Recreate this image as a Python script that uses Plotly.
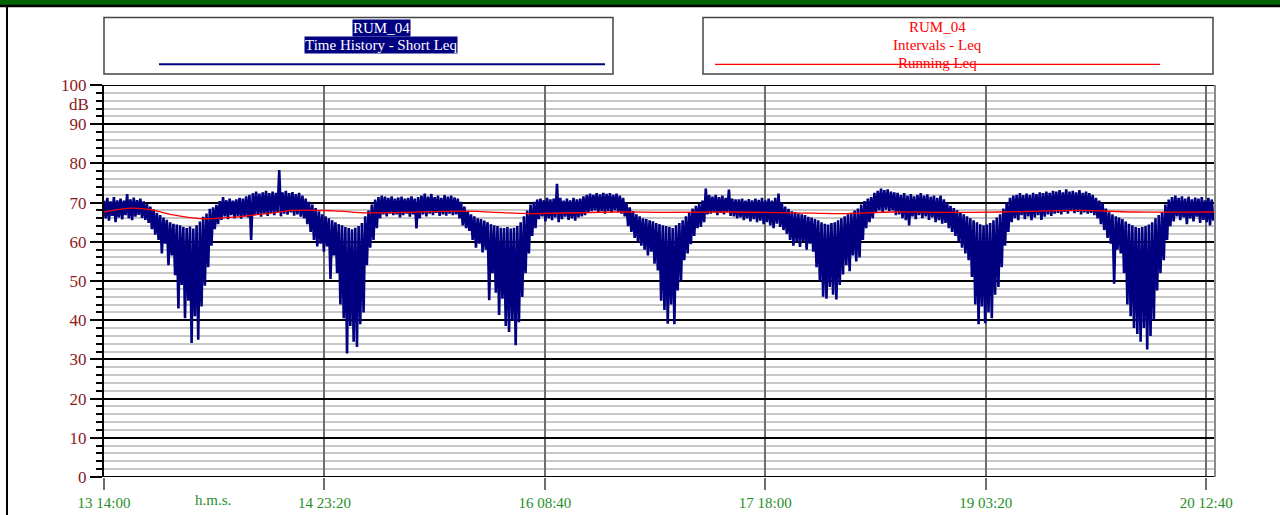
import pandas as pd
import plotly.graph_objects as go

# ---------------- data ----------------
START = "2021-09-13 14:00"
STEP_MIN = 30  # one high/low pair per 30 minutes

# Short Leq envelope, per day (48 half-hour slots each), dB
HI_D0 = [70.5, 71.2, 70.3, 71.4, 70.6, 71.0, 70.5, 72.2, 70.8, 71.3, 70.6, 71.0,
         70.3, 69.6, 69.0, 68.2, 67.4, 66.8, 66.2, 65.6, 65.0, 64.6, 64.4, 64.2,
         63.8, 63.5, 63.9, 63.4, 64.2, 65.2, 66.4, 67.2, 68.4, 68.8, 69.4, 70.4,
         71.4, 70.6, 71.0, 70.5, 70.8, 71.2, 71.0, 71.6, 72.0, 72.4, 72.8, 72.3]
LO_D0 = [66.0, 65.4, 66.6, 65.0, 66.2, 65.7, 66.8, 66.0, 65.5, 66.4, 66.9, 66.1,
         65.6, 64.8, 63.2, 61.8, 60.5, 57.0, 59.5, 54.0, 56.5, 51.5, 43.0, 49.0,
         40.5, 45.0, 34.2, 41.0, 35.0, 43.5, 48.8, 53.5, 59.0, 63.2, 64.5, 65.6,
         66.5, 65.8, 66.8, 66.0, 66.6, 65.9, 66.5, 66.2, 60.5, 66.8, 67.0, 66.4]
HI_D1 = [72.6, 73.0, 72.4, 72.8, 72.5, 78.3, 72.6, 73.0, 72.4, 72.7, 72.2, 72.5,
         71.8, 71.0, 70.2, 69.5, 68.6, 67.8, 67.0, 66.5, 66.0, 65.5, 65.0, 64.5,
         64.2, 63.8, 63.5, 63.2, 63.6, 64.0, 64.8, 66.5, 68.0, 69.5, 70.8, 71.4,
         71.8, 71.5, 71.2, 71.6, 71.0, 71.3, 71.5, 71.0, 71.2, 71.6, 71.0, 71.4]
LO_D1 = [67.2, 66.6, 67.4, 66.8, 67.6, 66.5, 67.2, 66.9, 67.5, 66.7, 67.0, 66.4,
         66.0, 64.5, 62.5, 60.5, 58.8, 59.5, 57.5, 58.8, 50.5, 56.5, 52.0, 44.0,
         40.5, 31.5, 38.5, 34.5, 33.2, 39.0, 42.0, 54.0, 58.5, 60.5, 63.5, 66.0,
         67.0, 66.5, 67.2, 66.8, 67.0, 66.2, 66.8, 67.2, 66.4, 67.0, 63.4, 66.0]
HI_D2 = [71.8, 72.3, 71.5, 72.2, 71.4, 71.8, 71.2, 71.9, 71.5, 71.8, 71.3, 71.0,
         70.2, 69.0, 67.8, 67.0, 66.5, 66.0, 65.8, 65.4, 65.0, 64.5, 64.2, 64.0,
         63.6, 63.5, 63.8, 63.4, 63.6, 64.0, 65.0, 66.5, 68.0, 69.5, 70.2, 70.8,
         71.0, 70.6, 71.2, 70.8, 71.0, 74.8, 71.2, 70.5, 71.0, 70.6, 71.2, 70.8]
LO_D2 = [67.0, 66.5, 67.2, 66.8, 67.4, 66.6, 67.0, 66.7, 67.2, 66.8, 67.0, 66.0,
         64.2, 63.5, 62.8, 60.5, 58.5, 59.5, 57.3, 58.0, 45.1, 52.0, 47.0, 41.3,
         45.5, 38.5, 37.0, 40.0, 33.6, 39.5, 45.9, 52.0, 57.0, 61.5, 63.5, 65.8,
         66.5, 65.2, 66.0, 65.5, 66.2, 65.0, 65.8, 66.4, 65.6, 66.0, 65.4, 66.2]
HI_D3 = [71.0, 71.6, 72.0, 72.3, 72.0, 72.4, 72.1, 72.5, 72.2, 72.4, 72.0, 72.3,
         71.8, 71.2, 70.0, 68.8, 67.8, 67.0, 66.5, 66.0, 65.8, 65.5, 65.2, 64.8,
         64.5, 64.2, 64.0, 63.8, 63.5, 64.2, 64.8, 65.5, 66.5, 67.5, 68.5, 69.2,
         69.6, 70.5, 73.6, 72.0, 71.5, 72.0, 71.4, 71.8, 71.2, 73.3, 71.0, 70.8]
LO_D3 = [66.5, 66.8, 67.5, 67.8, 68.0, 67.4, 67.8, 67.2, 67.9, 67.5, 68.0, 67.6,
         67.2, 66.5, 64.0, 62.5, 61.0, 60.0, 59.0, 58.0, 56.5, 57.5, 54.4, 52.7,
         45.0, 42.6, 39.1, 44.0, 39.0, 47.6, 50.0, 55.3, 57.0, 59.4, 61.5, 63.5,
         63.8, 65.0, 67.0, 67.2, 67.6, 66.8, 67.4, 67.0, 67.6, 66.6, 66.5, 66.0]
HI_D4 = [70.8, 71.0, 70.5, 70.9, 70.6, 71.0, 70.7, 71.2, 70.6, 71.0, 70.5, 71.2,
         72.3, 70.0, 69.0, 68.4, 67.8, 67.5, 67.2, 67.0, 66.8, 66.4, 66.2, 65.8,
         65.5, 65.0, 64.6, 64.4, 64.8, 65.0, 65.5, 66.0, 66.5, 67.0, 67.4, 68.0,
         68.5, 69.5, 70.4, 71.0, 71.4, 72.5, 73.0, 73.6, 73.2, 73.4, 72.8, 72.6]
LO_D4 = [66.2, 65.5, 66.0, 65.2, 65.8, 65.0, 65.4, 64.5, 65.0, 64.2, 63.5, 64.6,
         63.8, 63.0, 62.0, 60.5, 59.0, 60.0, 58.7, 60.2, 58.0, 59.5, 57.5, 53.5,
         50.0, 46.0, 45.5, 48.5, 46.5, 45.3, 49.0, 51.7, 54.0, 52.5, 56.5, 55.0,
         56.0, 60.5, 63.5, 65.0, 66.0, 67.5, 68.0, 67.6, 68.2, 67.8, 68.0, 66.8]
HI_D5 = [72.5, 72.0, 72.4, 71.8, 72.2, 71.6, 72.0, 72.4, 71.8, 72.1, 71.5, 71.8,
         71.2, 71.8, 70.8, 70.0, 69.2, 68.6, 68.0, 67.5, 67.0, 66.5, 66.0, 65.5,
         65.0, 64.5, 64.2, 64.4, 64.8, 65.5, 66.2, 67.0, 68.5, 70.0, 71.2, 71.8,
         72.0, 72.4, 71.9, 72.3, 72.0, 72.5, 72.2, 72.6, 72.4, 72.8, 72.5, 73.0]
LO_D5 = [67.0, 66.0, 65.5, 64.2, 66.5, 65.8, 66.8, 66.0, 66.5, 65.6, 66.2, 65.0,
         65.5, 64.6, 64.8, 63.5, 62.5, 61.5, 60.0, 58.5, 57.0, 55.3, 51.0, 44.0,
         39.0, 43.5, 39.2, 42.0, 40.5, 46.5, 48.5, 53.5, 59.0, 62.5, 65.0, 66.0,
         65.5, 66.8, 65.8, 66.5, 65.5, 66.2, 66.8, 65.6, 66.4, 67.0, 66.6, 67.2]
HI_D6 = [72.8, 73.2, 72.6, 73.4, 72.8, 73.0, 72.6, 73.2, 72.5, 72.8, 72.4, 72.0,
         71.2, 70.5, 69.8, 68.5, 67.5, 67.0, 66.5, 66.2, 65.8, 65.2, 64.6, 64.2,
         63.8, 63.5, 63.8, 64.0, 64.4, 65.0, 66.0, 66.8, 67.5, 69.5, 70.8, 71.4,
         71.8, 71.2, 71.6, 71.0, 71.5, 70.8, 71.3, 71.0, 71.4, 70.6, 71.2, 70.8]
LO_D6 = [67.4, 67.0, 67.6, 67.2, 67.8, 67.3, 67.6, 67.0, 67.5, 67.2, 67.4, 66.8,
         66.0, 64.5, 63.0, 61.0, 59.5, 49.3, 58.0, 57.0, 52.0, 44.0, 41.0, 38.0,
         36.5, 34.5, 38.0, 32.5, 36.0, 40.0, 47.6, 52.0, 55.3, 60.5, 64.0, 65.2,
         66.5, 65.5, 66.2, 64.5, 66.0, 65.2, 66.4, 64.8, 65.6, 65.0, 64.2, 65.4]

# Running Leq (hours from start, dB)
RUN_H = [0, 2, 4.4, 7, 10, 14.5, 19.5, 24.6, 28.6, 34.7, 39.7, 45, 54.3, 64.4,
         77, 85, 94.1, 104.2, 111.7, 119.3, 128, 135.7, 147.3, 155.8, 168]
RUN_V = [67.6, 68.2, 68.6, 68.2, 67.0, 65.9, 66.3, 67.2, 68.0, 67.9, 67.4, 67.5,
         67.8, 67.2, 67.6, 67.5, 67.6, 67.4, 67.2, 67.6, 67.5, 67.6, 68.0, 67.6, 67.6]

X_TICK_LABELS = ["13 14:00", "14 23:20", "16 08:40", "17 18:00", "19 03:20", "20 12:40"]
X_TICK_STEP_MIN = 2000
SPAN_H = 168

# ---------------- build ----------------
NAVY = "#000080"
RED = "#FF0000"
YCOL = "#8B1A1A"
XCOL = "#1F8F1F"
FONT = "Liberation Serif"

hi = HI_D0 + HI_D1 + HI_D2 + HI_D3 + HI_D4 + HI_D5 + HI_D6
lo = LO_D0 + LO_D1 + LO_D2 + LO_D3 + LO_D4 + LO_D5 + LO_D6
t0 = pd.Timestamp(START)
xs, ys = [], []
for i, (h, l) in enumerate(zip(hi, lo)):
    t = t0 + pd.Timedelta(minutes=STEP_MIN * i)
    xs += [t, t + pd.Timedelta(minutes=STEP_MIN / 2)]
    ys += [h, l]

run_x = [t0 + pd.Timedelta(hours=h) for h in RUN_H]
tickvals = [t0 + pd.Timedelta(minutes=X_TICK_STEP_MIN * k) for k in range(len(X_TICK_LABELS))]

fig = go.Figure()
fig.add_trace(go.Scatter(x=xs, y=ys, mode="lines", line=dict(color=NAVY, width=2.6),
                         hoverinfo="skip"))
fig.add_trace(go.Scatter(x=run_x, y=RUN_V, mode="lines",
                         line=dict(color=RED, width=1.3, shape="spline", smoothing=1.0)))

PL, PR, PT, PB = 104, 1215, 85, 477
W, H = 1280, 515


def px(xp):
    return (xp - PL) / (PR - PL)


def py(yp):
    return (PB - yp) / (PB - PT)


shapes = [
    # top banner
    dict(type="rect", xref="paper", yref="paper", x0=px(-5), x1=px(W + 5), y0=py(5), y1=py(-5),
         fillcolor="#006400", line=dict(width=0), layer="above"),
    dict(type="line", xref="paper", yref="paper", x0=px(-5), x1=px(W + 5), y0=py(6), y1=py(6),
         line=dict(color="black", width=2.5)),
    dict(type="line", xref="paper", yref="paper", x0=px(7), x1=px(7), y0=py(6), y1=py(H + 5),
         line=dict(color="black", width=2)),
    # plot frame lines
    dict(type="line", xref="paper", yref="y", x0=0, x1=1, y0=100, y1=100,
         line=dict(color="black", width=2.2)),
    dict(type="line", xref="paper", yref="y", x0=0, x1=1, y0=0, y1=0,
         line=dict(color="black", width=2.2)),
    dict(type="line", xref="paper", yref="y", x0=1, x1=1, y0=0, y1=100,
         line=dict(color="#8a8a8a", width=2)),
    # legend boxes
    dict(type="rect", xref="paper", yref="paper", x0=px(104), x1=px(613), y0=py(74), y1=py(17.5),
         line=dict(color="#444444", width=1.5), fillcolor="white"),
    dict(type="rect", xref="paper", yref="paper", x0=px(703), x1=px(1213), y0=py(74), y1=py(17.5),
         line=dict(color="#444444", width=1.5), fillcolor="white"),
    dict(type="line", xref="paper", yref="paper", x0=px(159), x1=px(605), y0=py(64.3), y1=py(64.3),
         line=dict(color=NAVY, width=2)),
    dict(type="line", xref="paper", yref="paper", x0=px(715), x1=px(1160), y0=py(64.3), y1=py(64.3),
         line=dict(color=RED, width=1.2)),
]

annotations = [
    dict(text="RUM_04", x=px(381), y=py(27.5), bgcolor=NAVY, font=dict(color="white")),
    dict(text="Time History - Short Leq", x=px(381), y=py(45), bgcolor=NAVY, font=dict(color="white")),
    dict(text="RUM_04", x=px(937), y=py(27), font=dict(color=RED)),
    dict(text="Intervals - Leq", x=px(937), y=py(45), font=dict(color=RED)),
    dict(text="Running Leq", x=px(937), y=py(63), font=dict(color=RED)),
    dict(text="h.m.s.", x=px(213), y=py(500), font=dict(color=XCOL)),
]
for a in annotations:
    a.update(xref="paper", yref="paper", showarrow=False, xanchor="center", yanchor="middle",
             borderpad=0)
    a["font"].update(family=FONT, size=15)
annotations.append(dict(text="dB", xref="paper", yref="y", x=px(91), y=95, showarrow=False,
                        xanchor="right", yanchor="middle",
                        font=dict(family=FONT, size=17, color=YCOL)))

fig.update_layout(
    width=W, height=H,
    margin=dict(l=PL, r=W - PR, t=PT, b=H - PB, pad=0, autoexpand=False),
    paper_bgcolor="white", plot_bgcolor="white",
    showlegend=False,
    shapes=shapes, annotations=annotations,
    xaxis=dict(
        type="date", range=[t0, t0 + pd.Timedelta(hours=SPAN_H)],
        tickmode="array", tickvals=tickvals, ticktext=X_TICK_LABELS,
        ticks="outside", ticklen=12, tickwidth=2, tickcolor="#6e6e6e",
        showgrid=True, gridcolor="#6e6e6e", gridwidth=2,
        showline=False, zeroline=False, automargin=False,
        tickfont=dict(family=FONT, size=15, color=XCOL),
    ),
    yaxis=dict(
        range=[0, 100], tickmode="linear", tick0=0, dtick=10,
        ticks="outside", ticklen=12, tickwidth=1.5, tickcolor="black",
        showgrid=True, gridcolor="black", gridwidth=2,
        minor=dict(dtick=2, ticks="outside", ticklen=6, tickcolor="black", tickwidth=1.5,
                   showgrid=True, gridcolor="#c8c8c8", gridwidth=2),
        showline=True, linecolor="black", linewidth=2, zeroline=False, automargin=False,
        tickfont=dict(family=FONT, size=17, color=YCOL),
    ),
)

fig.write_html(
    "out.html",
    config={"displayModeBar": False},
    post_script="document.body.style.margin='0px';document.body.style.overflow='hidden';",
)
